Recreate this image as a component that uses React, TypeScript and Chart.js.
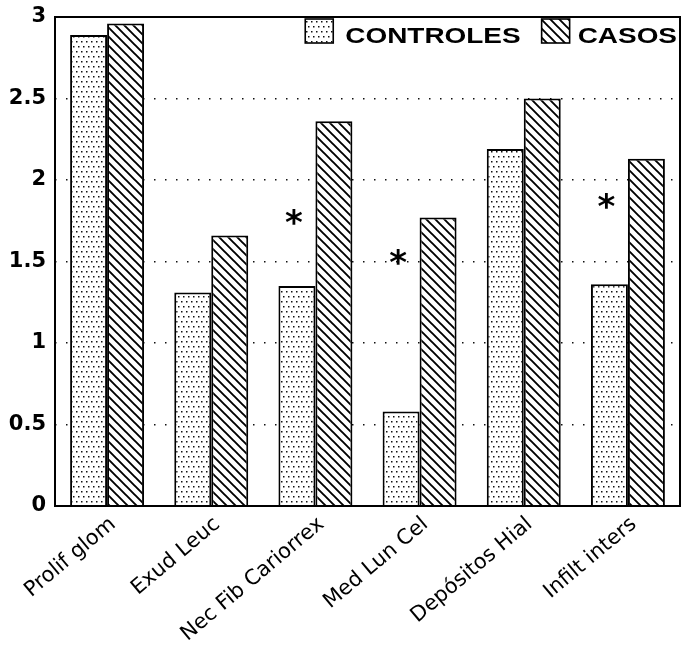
import { useEffect, useRef } from 'react';
import { Chart, registerables } from 'chart.js';

Chart.register(...registerables);

const categories = ['Prolif glom', 'Exud Leuc', 'Nec Fib Cariorrex', 'Med Lun Cel', 'Depósitos Hial', 'Infilt inters'];
const controles = [2.89, 1.31, 1.35, 0.58, 2.19, 1.36];
const casos = [2.96, 1.66, 2.36, 1.77, 2.5, 2.13];
const asteriskAt: (number | null)[] = [null, null, 1.77, 1.53, null, 1.87];
const seriesNames = ['CONTROLES', 'CASOS'];
const yTicks = [0, 0.5, 1, 1.5, 2, 2.5, 3];

function makeDots(): CanvasPattern {
  const c = document.createElement('canvas');
  c.width = 10;
  c.height = 10;
  const g = c.getContext('2d')!;
  g.fillStyle = '#fff';
  g.fillRect(0, 0, 10, 10);
  g.fillStyle = '#111';
  [[1, 1], [6, 1], [3, 6], [8, 6]].forEach(([x, y]) => g.fillRect(x, y, 1.5, 1.5));
  return g.createPattern(c, 'repeat')!;
}

function makeHatch(): CanvasPattern {
  const s = 9;
  const c = document.createElement('canvas');
  c.width = s;
  c.height = s;
  const g = c.getContext('2d')!;
  g.fillStyle = '#fff';
  g.fillRect(0, 0, s, s);
  g.strokeStyle = '#000';
  g.lineWidth = 1.9;
  g.beginPath();
  g.moveTo(-1, -1);
  g.lineTo(s + 1, s + 1);
  g.moveTo(-s - 1, -1);
  g.lineTo(1, s + 1);
  g.moveTo(-1, -s - 1);
  g.lineTo(s + 1, 1);
  g.stroke();
  return g.createPattern(c, 'repeat')!;
}

export default function App() {
  const ref = useRef<HTMLCanvasElement>(null);

  useEffect(() => {
    document.body.style.margin = '0';
    const dots = makeDots();
    const hatch = makeHatch();
    const patterns = [dots, hatch];

    const overlay = {
      id: 'overlay',
      afterDraw(chart: any) {
        const { ctx, chartArea: a, scales } = chart;
        const y = scales.y;
        ctx.save();
        // frame
        ctx.strokeStyle = '#000';
        ctx.lineWidth = 2;
        ctx.setLineDash([]);
        ctx.strokeRect(a.left, a.top, a.right - a.left, a.bottom - a.top);

        // asterisks
        const meta = chart.getDatasetMeta(0);
        ctx.fillStyle = '#000';
        ctx.font = 'bold 34px "DejaVu Sans"';
        ctx.textAlign = 'center';
        ctx.textBaseline = 'alphabetic';
        const m = ctx.measureText('*');
        const off = (m.actualBoundingBoxDescent - m.actualBoundingBoxAscent) / 2;
        asteriskAt.forEach((v, i) => {
          if (v == null) return;
          const bx = meta.data[i].x - 3;
          const py = y.getPixelForValue(v);
          ctx.fillText('*', bx, py - off);
        });

        // legend (inside the plot, top-right)
        const sx = 1.27;
        ctx.font = 'bold 22px "Liberation Sans"';
        ctx.textAlign = 'left';
        const boxW = 28;
        const boxH = 24;
        const boxTop = a.top + 2;
        const baseline = a.top + 26;
        const w1 = ctx.measureText(seriesNames[0]).width * sx;
        const w2 = ctx.measureText(seriesNames[1]).width * sx;
        const right = a.right - 3;
        const t2 = right - w2;
        const b2 = t2 - 8 - boxW;
        const t1 = b2 - 21 - w1;
        const b1 = t1 - 12 - boxW;
        const drawItem = (bx: number, tx: number, pat: CanvasPattern, text: string) => {
          ctx.fillStyle = pat;
          ctx.fillRect(bx, boxTop, boxW, boxH);
          ctx.strokeStyle = '#000';
          ctx.lineWidth = 1.6;
          ctx.strokeRect(bx, boxTop, boxW, boxH);
          ctx.fillStyle = '#000';
          ctx.save();
          ctx.translate(tx, baseline);
          ctx.scale(sx, 1);
          ctx.fillText(text, 0, 0);
          ctx.restore();
        };
        drawItem(b1, t1, patterns[0], seriesNames[0]);
        drawItem(b2, t2, patterns[1], seriesNames[1]);
        ctx.restore();
      },
    };

    const chart = new Chart(ref.current!, {
      type: 'bar',
      data: {
        labels: categories,
        datasets: [
          {
            label: seriesNames[0],
            data: controles,
            backgroundColor: dots,
            borderColor: '#000',
            borderWidth: 2,
            categoryPercentage: 0.71,
            barPercentage: 1,
          },
          {
            label: seriesNames[1],
            data: casos,
            backgroundColor: hatch,
            borderColor: '#000',
            borderWidth: 2,
            categoryPercentage: 0.71,
            barPercentage: 1,
          },
        ],
      },
      options: {
        responsive: false,
        animation: false,
        devicePixelRatio: 1,
        layout: { padding: { top: 17, right: 2, left: 0, bottom: 0 } },
        plugins: {
          legend: { display: false },
          tooltip: { enabled: false },
        },
        scales: {
          x: {
            grid: { display: false, drawTicks: false },
            border: { display: false },
            ticks: {
              color: '#000',
              font: { family: 'DejaVu Sans', size: 21 },
              maxRotation: 40,
              minRotation: 40,
              autoSkip: false,
              padding: 6,
              labelOffset: 6,
            },
            afterFit: (s: any) => {
              s.height = 144;
              s.paddingLeft = 0;
              s.paddingRight = 0;
            },
          },
          y: {
            min: 0,
            max: 3,
            afterBuildTicks: (s: any) => {
              s.ticks = yTicks.map((v) => ({ value: v }));
            },
            grid: {
              drawTicks: false,
              lineWidth: 1.5,
              color: (c: any) => (c.tick && (c.tick.value === 0 || c.tick.value === 3) ? 'rgba(0,0,0,0)' : '#111'),
            },
            border: { display: false, dash: [1.5, 9.5] },
            ticks: {
              color: '#000',
              font: { family: 'DejaVu Sans', size: 21, weight: 'bold' },
              padding: 9,
              callback: (v: any) => String(v),
            },
            afterFit: (s: any) => {
              s.width = 55;
              s.paddingTop = 0;
              s.paddingBottom = 0;
            },
          },
        },
      },
      plugins: [overlay],
    });
    return () => chart.destroy();
  }, []);

  return <canvas ref={ref} width={682} height={650} style={{ display: 'block' }} />;
}
